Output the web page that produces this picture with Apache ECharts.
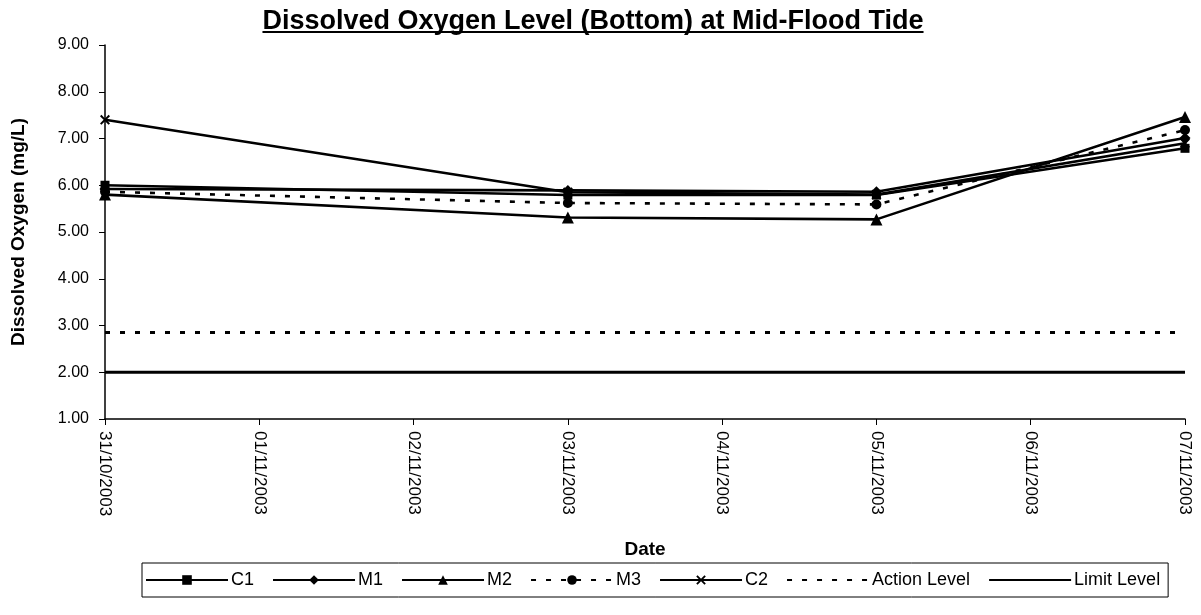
<!DOCTYPE html>
<html>
<head>
<meta charset="utf-8">
<script src="https://cdn.jsdelivr.net/npm/echarts@6/dist/echarts.min.js"></script>
<style>
  html, body { margin: 0; padding: 0; background: #ffffff; }
  #chart { width: 1201px; height: 615px; }
</style>
</head>
<body>
<div id="chart"></div>
<script>
// Daily axis categories; stations were sampled on 31/10, 03/11, 05/11 and 07/11
const dates = ['31/10/2003', '01/11/2003', '02/11/2003', '03/11/2003',
               '04/11/2003', '05/11/2003', '06/11/2003', '07/11/2003'];

// Dissolved oxygen (mg/L), bottom samples at mid-flood tide
const c1 = [6.00, null, null, 5.79, null, 5.79, null, 6.79];
const m1 = [5.92, null, null, 5.89, null, 5.86, null, 7.01];
const m2 = [5.80, null, null, 5.31, null, 5.27, null, 7.46];
const m3 = [5.86, null, null, 5.62, null, 5.59, null, 7.18];
const c2 = [7.40, null, null, 5.85, null, 5.80, null, 6.90];

// Compliance thresholds (mg/L)
const actionLevel = [2.85, 2.85, 2.85, 2.85, 2.85, 2.85, 2.85, 2.85];
const limitLevel  = [2.00, 2.00, 2.00, 2.00, 2.00, 2.00, 2.00, 2.00];

// Y axis range and step (mg/L)
const yMin = 1, yMax = 9, yStep = 1;

const titleText = 'Dissolved Oxygen Level (Bottom) at Mid-Flood Tide';
const FONT = '"Liberation Sans", Arial, sans-serif';
const INK = '#000000';

// Bow-tie cross used for station C2
const crossPath = 'path://M0,1.4L1.4,0L5,3.6L8.6,0L10,1.4L6.4,5L10,8.6L8.6,10L5,6.4L1.4,10L0,8.6L3.6,5Z';

function stationSeries(name, data, symbol, size, dashed) {
  return {
    name: name,
    type: 'line',
    data: data,
    connectNulls: true,
    symbol: symbol,
    symbolSize: size,
    showSymbol: true,
    z: 3,
    lineStyle: { color: INK, width: 2.6, type: dashed ? [5, 10] : 'solid' },
    itemStyle: { color: INK, borderWidth: 0 },
    emphasis: { disabled: true },
    animation: false
  };
}

function levelSeries(name, data, dashed) {
  return {
    name: name,
    type: 'line',
    data: data,
    symbol: 'none',
    z: 2,
    lineStyle: { color: INK, width: 2.8, type: dashed ? [5, 10] : 'solid' },
    itemStyle: { color: INK },
    emphasis: { disabled: true },
    animation: false
  };
}

// Measure the title so its underline spans exactly the text
const TITLE_SIZE = 27;
const measureCtx = document.createElement('canvas').getContext('2d');
measureCtx.font = 'bold ' + TITLE_SIZE + 'px ' + FONT;
const titleWidth = measureCtx.measureText(titleText).width;
const titleCenterX = 593;
const titleBottom = 35;
const underlineY = 32;

const chart = echarts.init(document.getElementById('chart'), null, { renderer: 'canvas' });

chart.setOption({
  backgroundColor: '#ffffff',
  animation: false,
  textStyle: { fontFamily: FONT, color: INK },
  graphic: [
    {
      type: 'text',
      x: titleCenterX,
      y: titleBottom,
      style: {
        text: titleText,
        font: 'bold ' + TITLE_SIZE + 'px ' + FONT,
        fill: INK,
        align: 'center',
        verticalAlign: 'bottom'
      }
    },
    {
      type: 'line',
      shape: {
        x1: titleCenterX - titleWidth / 2, y1: underlineY,
        x2: titleCenterX + titleWidth / 2, y2: underlineY
      },
      style: { stroke: INK, lineWidth: 2 }
    }
  ],
  grid: { left: 105, right: 16, top: 45, bottom: 196, containLabel: false },
  legend: {
    left: 142,
    top: 563,
    itemWidth: 82,
    itemHeight: 12,
    itemGap: 18,
    padding: [8, 8, 8, 3],
    borderColor: INK,
    borderWidth: 1,
    borderRadius: 0,
    selectedMode: false,
    textStyle: { fontFamily: FONT, fontSize: 18, color: INK, padding: [0, 0, 0, -2] },
    data: [
      'C1', 'M1', 'M2', 'M3', 'C2',
      { name: 'Action Level', itemStyle: { opacity: 0 } },
      { name: 'Limit Level', itemStyle: { opacity: 0 } }
    ]
  },
  xAxis: {
    type: 'category',
    data: dates,
    boundaryGap: false,
    name: 'Date',
    nameLocation: 'middle',
    nameGap: 121,
    nameTextStyle: { fontFamily: FONT, fontSize: 19, fontWeight: 'bold', color: INK },
    axisLine: { show: true, onZero: false, lineStyle: { color: INK, width: 1.5 } },
    axisTick: { show: true, length: 6, lineStyle: { color: INK, width: 1 } },
    axisLabel: {
      rotate: -90,
      margin: 12,
      fontFamily: FONT,
      fontSize: 17,
      color: INK,
      interval: 0
    },
    splitLine: { show: false }
  },
  yAxis: {
    type: 'value',
    min: yMin,
    max: yMax,
    interval: yStep,
    name: 'Dissolved Oxygen (mg/L)',
    nameLocation: 'middle',
    nameGap: 77,
    nameTextStyle: { fontFamily: FONT, fontSize: 19, fontWeight: 'bold', color: INK },
    axisLine: { show: true, lineStyle: { color: INK, width: 1.5 } },
    axisTick: { show: true, length: 6, lineStyle: { color: INK, width: 1 } },
    axisLabel: {
      margin: 16,
      fontFamily: FONT,
      fontSize: 16,
      color: INK,
      formatter: function (v) { return v.toFixed(2); }
    },
    splitLine: { show: false }
  },
  series: [
    stationSeries('C1', c1, 'rect', 9, false),
    stationSeries('M1', m1, 'diamond', 11, false),
    stationSeries('M2', m2, 'triangle', 12, false),
    stationSeries('M3', m3, 'circle', 10, true),
    stationSeries('C2', c2, crossPath, 10, false),
    levelSeries('Action Level', actionLevel, true),
    levelSeries('Limit Level', limitLevel, false)
  ]
});
</script>
</body>
</html>
